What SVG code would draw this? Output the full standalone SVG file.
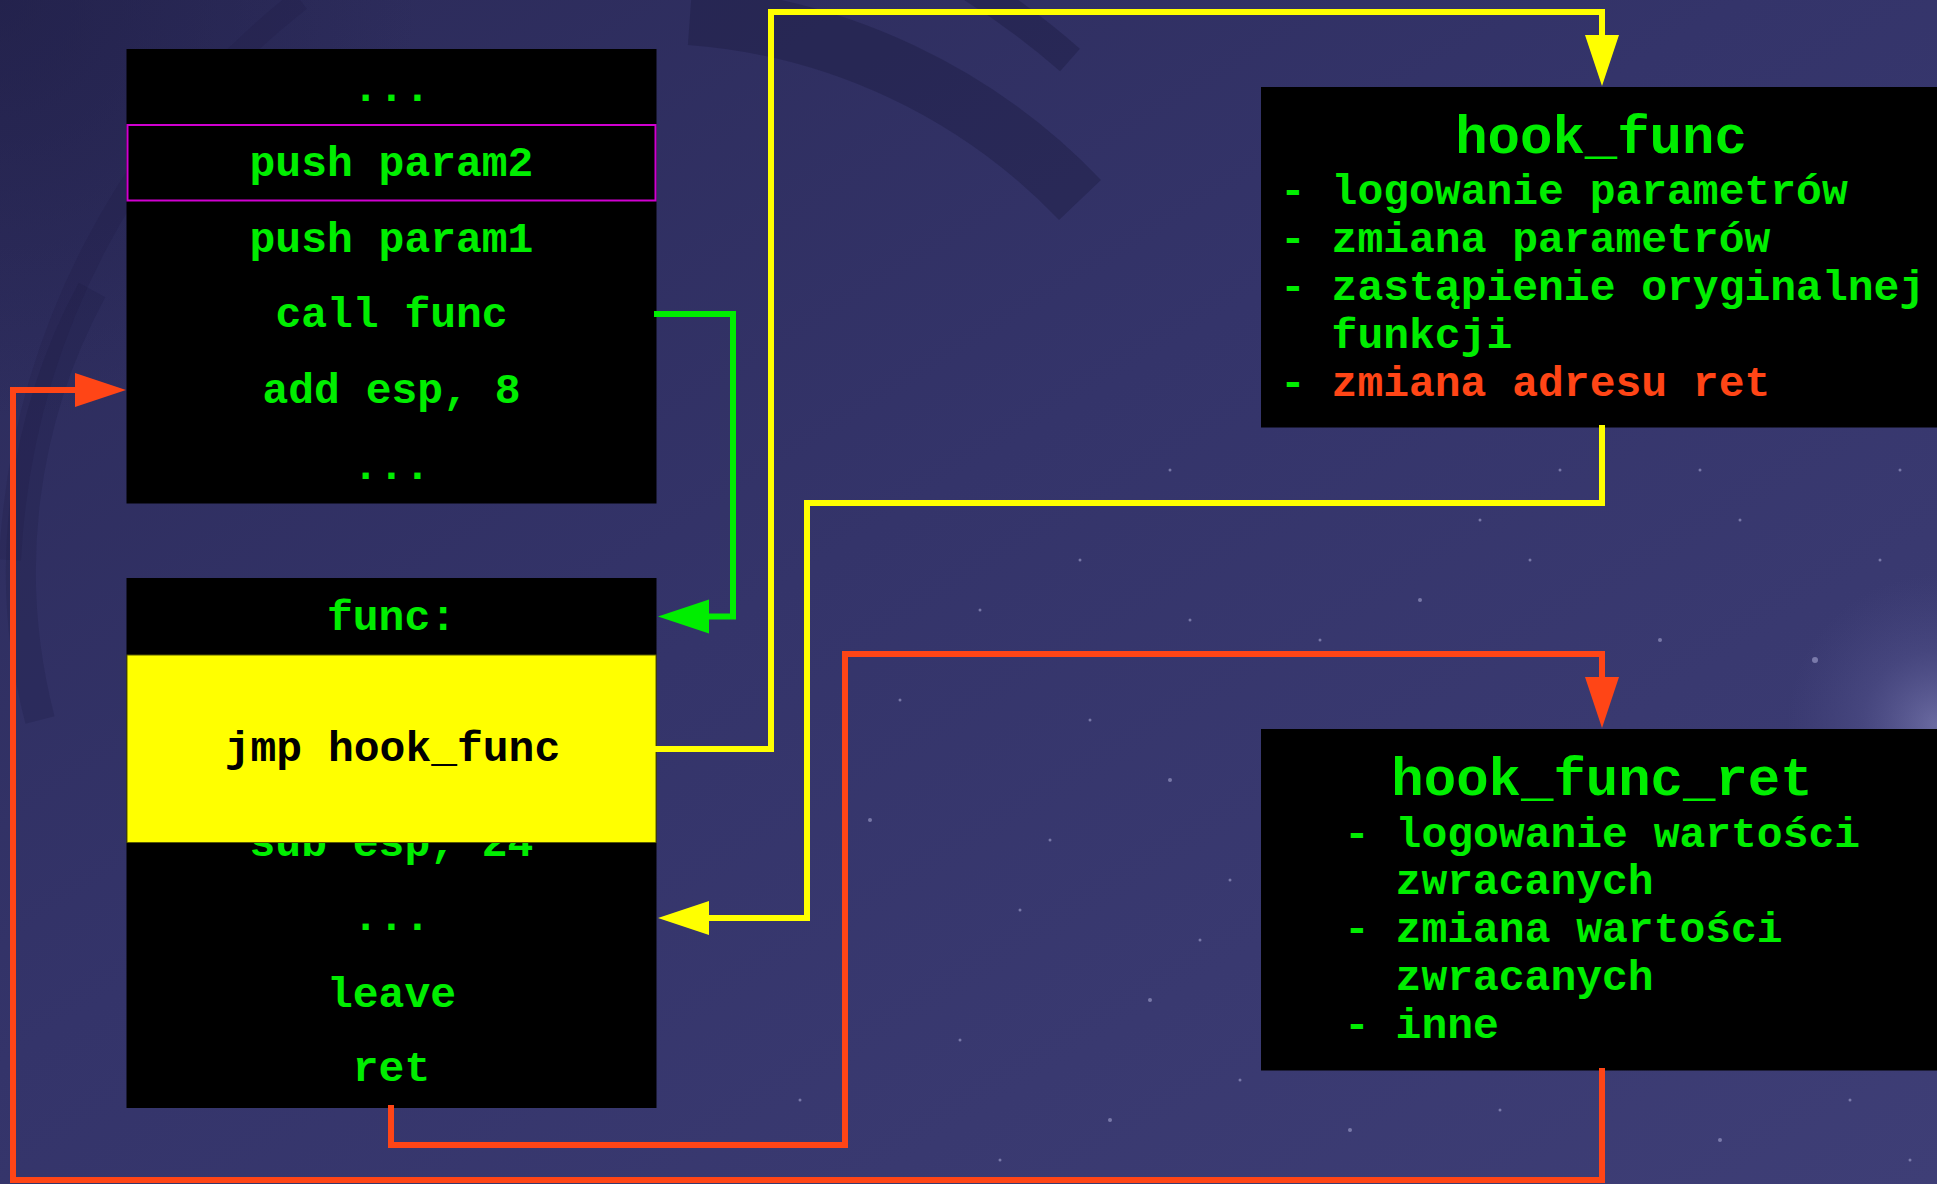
<svg xmlns="http://www.w3.org/2000/svg" width="1937" height="1184" viewBox="0 0 1937 1184">
  <defs>
    <linearGradient id="bg" x1="0" y1="0" x2="1" y2="1">
      <stop offset="0" stop-color="#2b2a58"/>
      <stop offset="0.45" stop-color="#34346a"/>
      <stop offset="1" stop-color="#3e3e76"/>
    </linearGradient>
    <radialGradient id="neb" cx="1937" cy="725" r="150" gradientUnits="userSpaceOnUse">
      <stop offset="0" stop-color="#8a8ac0" stop-opacity="0.6"/>
      <stop offset="0.5" stop-color="#6a6aa5" stop-opacity="0.25"/>
      <stop offset="1" stop-color="#5a5a95" stop-opacity="0"/>
    </radialGradient>
    <radialGradient id="corner" cx="0" cy="0" r="420" gradientUnits="userSpaceOnUse">
      <stop offset="0" stop-color="#1e1d45" stop-opacity="0.6"/>
      <stop offset="1" stop-color="#1e1d45" stop-opacity="0"/>
    </radialGradient>
    <marker id="mg" markerUnits="userSpaceOnUse" markerWidth="52" markerHeight="36" refX="1" refY="17" orient="auto" overflow="visible">
      <path d="M0,0 L51,17 L0,34 z" fill="#00ee00"/>
    </marker>
    <marker id="my" markerUnits="userSpaceOnUse" markerWidth="52" markerHeight="36" refX="1" refY="17" orient="auto" overflow="visible">
      <path d="M0,0 L51,17 L0,34 z" fill="#ffff00"/>
    </marker>
    <marker id="mr" markerUnits="userSpaceOnUse" markerWidth="52" markerHeight="36" refX="1" refY="17" orient="auto" overflow="visible">
      <path d="M0,0 L51,17 L0,34 z" fill="#ff4516"/>
    </marker>
    <style>
      .box { fill: #000000; }
      .code { font-family: "Liberation Mono", "Courier New", monospace; font-weight: bold; font-size: 43px; fill: #00ee00; }
      .mid { text-anchor: middle; }
      .title { font-size: 54px; }
      .dark { fill: #000000; }
      .red { fill: #ff4516; }
      .wire { fill: none; stroke-width: 6; stroke-linejoin: miter; stroke-linecap: square; }
      .g { stroke: #00ee00; }
      .y { stroke: #ffff00; }
      .r { stroke: #ff4516; }
      .star { fill: #c8c8f0; }
    </style>
  </defs>

  <!-- background -->
  <g id="background">
    <rect x="0" y="0" width="1937" height="1184" fill="url(#bg)"/>
    <rect x="0" y="0" width="1937" height="1184" fill="url(#corner)"/>
    <rect x="0" y="0" width="1937" height="1184" fill="url(#neb)"/>
    <g fill="none" stroke="#1c1b42" stroke-opacity="0.4">
      <path d="M 690 16 A 600 600 0 0 1 1080 200" stroke-width="58"/>
      <path d="M 960 -20 A 730 730 0 0 1 1070 60" stroke-width="30"/>
      <path d="M 92 290 A 590 590 0 0 0 40 720" stroke-width="30" stroke-opacity="0.25"/>
      <path d="M 300 0 A 760 760 0 0 0 10 560" stroke-width="22" stroke-opacity="0.2"/>
    </g>
    <g class="star" fill-opacity="0.45">
      <circle cx="1170" cy="780" r="2"/><circle cx="1230" cy="880" r="1.5"/><circle cx="1150" cy="1000" r="2"/>
      <circle cx="1020" cy="910" r="1.5"/><circle cx="960" cy="1040" r="1.5"/><circle cx="1110" cy="1120" r="2"/>
      <circle cx="1320" cy="640" r="1.5"/><circle cx="1420" cy="600" r="2"/><circle cx="1530" cy="560" r="1.5"/>
      <circle cx="1660" cy="640" r="2"/><circle cx="1740" cy="520" r="1.5"/><circle cx="1815" cy="660" r="3"/>
      <circle cx="1880" cy="560" r="1.5"/><circle cx="1900" cy="470" r="1.5"/><circle cx="1700" cy="470" r="1.5"/>
      <circle cx="1170" cy="470" r="1.5"/><circle cx="1080" cy="560" r="1.5"/><circle cx="980" cy="610" r="1.5"/>
      <circle cx="900" cy="700" r="1.5"/><circle cx="870" cy="820" r="2"/><circle cx="1240" cy="1080" r="1.5"/>
      <circle cx="1350" cy="1130" r="2"/><circle cx="1500" cy="1110" r="1.5"/><circle cx="1720" cy="1140" r="2"/>
      <circle cx="1850" cy="1100" r="1.5"/><circle cx="1910" cy="1160" r="1.5"/><circle cx="1000" cy="1160" r="1.5"/>
      <circle cx="800" cy="1100" r="1.5"/><circle cx="1090" cy="720" r="1.5"/><circle cx="1190" cy="620" r="1.5"/>
      <circle cx="1600" cy="700" r="1.5"/><circle cx="1560" cy="470" r="1.5"/><circle cx="1480" cy="520" r="1.5"/>
      <circle cx="1280" cy="990" r="1.5"/><circle cx="1200" cy="940" r="1.5"/><circle cx="1050" cy="840" r="1.5"/>
    </g>
  </g>

  <!-- caller code block -->
  <g id="caller">
    <rect class="box" x="126.5" y="49" width="530" height="454.5"/>
    <rect x="127.5" y="125" width="528" height="75.5" fill="none" stroke="#d000d0" stroke-width="2"/>
    <text class="code mid" x="391.5" y="101">...</text>
    <text class="code mid" x="391.5" y="176">push param2</text>
    <text class="code mid" x="391.5" y="252">push param1</text>
    <text class="code mid" x="391.5" y="327">call func</text>
    <text class="code mid" x="391.5" y="403">add esp, 8</text>
    <text class="code mid" x="391.5" y="479">...</text>
  </g>

  <!-- func code block -->
  <g id="func">
    <rect class="box" x="126.5" y="578" width="530" height="530"/>
    <text class="code mid" x="391.5" y="630">func:</text>
    <text class="code mid" x="391.5" y="856">sub esp, 24</text>
    <rect x="127" y="655" width="529" height="187.5" fill="#ffff00" stroke="#5a5a00" stroke-width="1"/>
    <text class="code mid dark" x="392.5" y="761">jmp hook_func</text>
    <text class="code mid" x="391.5" y="930">...</text>
    <text class="code mid" x="391.5" y="1007">leave</text>
    <text class="code mid" x="391.5" y="1081">ret</text>
  </g>

  <!-- hook_func block -->
  <g id="hook_func">
    <rect class="box" x="1261" y="87" width="700" height="340.5"/>
    <text class="code mid title" x="1601" y="153">hook_func</text>
    <text class="code" x="1280" y="204">- logowanie parametrów</text>
    <text class="code" x="1280" y="252">- zmiana parametrów</text>
    <text class="code" x="1280" y="300">- zastąpienie oryginalnej</text>
    <text class="code" x="1331.6" y="348">funkcji</text>
    <text class="code" x="1280" y="396">-</text>
    <text class="code red" x="1331.6" y="396">zmiana adresu ret</text>
  </g>

  <!-- hook_func_ret block -->
  <g id="hook_func_ret">
    <rect class="box" x="1261" y="729" width="700" height="341.5"/>
    <text class="code mid title" x="1602" y="795">hook_func_ret</text>
    <text class="code" x="1344" y="847">- logowanie wartości</text>
    <text class="code" x="1395.6" y="894">zwracanych</text>
    <text class="code" x="1344" y="942">- zmiana wartości</text>
    <text class="code" x="1395.6" y="990">zwracanych</text>
    <text class="code" x="1344" y="1038">- inne</text>
  </g>

  <!-- connectors -->
  <g id="connectors">
    <path class="wire g" d="M 657 314 H 733 V 616.5 H 708" marker-end="url(#mg)"/>
    <path class="wire y" d="M 657 749 H 771 V 12 H 1602 V 36" marker-end="url(#my)"/>
    <path class="wire y" d="M 1602 428 V 503 H 807 V 918 H 708" marker-end="url(#my)"/>
    <path class="wire r" d="M 391 1108 V 1145 H 845 V 654 H 1602 V 678" marker-end="url(#mr)"/>
    <path class="wire r" d="M 1602 1071 V 1180 H 13 V 390 H 76" marker-end="url(#mr)"/>
  </g>
</svg>
